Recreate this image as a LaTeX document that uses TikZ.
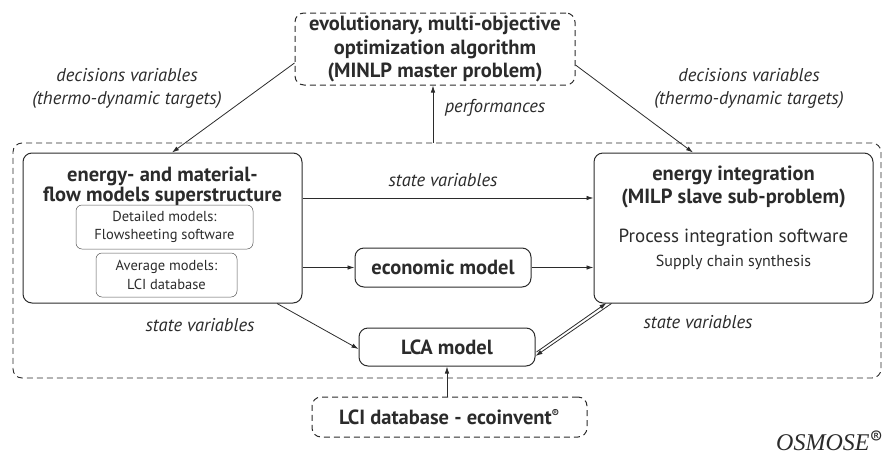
\documentclass[tikz,border=0pt]{standalone}
\usepackage{fontspec}
\setmainfont{PT Sans}
\newfontfamily\osmosefont{Liberation Serif}
\usetikzlibrary{arrows.meta,calc}
\definecolor{ink}{HTML}{2B2B2B}
\begin{document}
\begin{tikzpicture}[x=1pt,y=-1pt,
  box/.style={draw=ink, rounded corners=9pt, line width=1pt, align=center, inner sep=0pt, text=ink},
  dbox/.style={box, dash pattern=on 6pt off 4pt},
  subbox/.style={draw=ink!80, rounded corners=6pt, line width=0.5pt, align=center, inner sep=0pt, text=ink,
    font=\fontsize{14.5}{18.5}\selectfont},
  ttl/.style={text=ink, align=center, font=\fontsize{20.5}{23}\selectfont\bfseries},
  lab/.style={text=ink, align=center, font=\fontsize{18.5}{23}\selectfont\itshape},
  arr/.style={draw=ink, line width=0.8pt, -{Latex[length=7pt,width=4.5pt]}}]
\useasboundingbox (0,0) rectangle (883,461);
% outer dashed frame
\node[dbox, minimum width=868, minimum height=235, line width=0.9pt] (outer) at (447,260.5) {};
% optimizer
\node[dbox, minimum width=280, minimum height=72, font=\fontsize{20.5}{23.5}\selectfont\bfseries] (opt) at (435,49)
  {evolutionary, multi-objective\\optimization algorithm\\(MINLP master problem)};
% left model box
\node[box, minimum width=279, minimum height=150] (mf) at (162.5,228) {};
\node[ttl, font=\fontsize{20.5}{18.5}\selectfont\bfseries] (mft) at (162.5,186) {energy- and material-\\flow models superstructure};
\node[subbox, minimum width=177, minimum height=44] (sub1) at (164.5,227) {Detailed models:\\Flowsheeting software};
\node[subbox, minimum width=141, minimum height=44] (sub2) at (166.5,275) {Average models:\\LCI database};
% right box
\node[box, minimum width=279, minimum height=150] (ei) at (733.5,228) {};
\node[ttl] (eit) at (733.5,186.5) {energy integration\\(MILP slave sub-problem)};
\node[text=ink, font=\fontsize{19}{20}\selectfont] (pis) at (733.5,238) {Process integration software};
\node[text=ink, font=\fontsize{16}{18}\selectfont] (scs) at (733.5,262) {Supply chain synthesis};
% economic, LCA, LCI
\node[box, minimum width=176, minimum height=39, font=\fontsize{20.5}{22}\selectfont\bfseries] (eco) at (443,267.5) {economic model};
\node[box, minimum width=176, minimum height=38, font=\fontsize{20.5}{22}\selectfont\bfseries] (lca) at (447,347) {LCA model};
\node[dbox, minimum width=275, minimum height=40, font=\fontsize{20.5}{22}\selectfont\bfseries] (lci) at (449.5,417)
  {LCI database - ecoinvent\textsuperscript{\fontsize{11}{11}\selectfont ®}};
% labels
\node[lab] (dvl) at (127,88) {decisions variables\\(thermo-dynamic targets)};
\node[lab] (dvr) at (749,88) {decisions variables\\(thermo-dynamic targets)};
\node[lab] (perf) at (495,108) {performances};
\node[lab] (sv1) at (443,180) {state variables};
\node[lab] (sv2) at (200,325) {state variables};
\node[lab] (sv3) at (698,322) {state variables};
\node[text=ink, font=\fontsize{24}{26}\selectfont\osmosefont\itshape, anchor=east, inner sep=0pt] (osm) at (883,441)
  {OSMOSE\raisebox{6pt}{\normalfont\fontsize{19}{19}\selectfont ®}};
% connectors
\draw[arr] ($(opt.west)+(0,14)$) -- (172,0 |- mf.north);
\draw[arr] ($(opt.east)+(0,16)$) -- (693,0 |- ei.north);
\draw[arr] (433,0 |- outer.north) -- (433,0 |- opt.south);
\draw[arr] (mf.east |- 0,198) -- (ei.west |- 0,198);
\draw[arr] (mf.east |- eco.west) -- (eco.west);
\draw[arr] (eco.east) -- (ei.west |- eco.east);
\draw[arr] (277,0 |- mf.south) -- ($(lca.west)+(0,2)$);
\draw[arr] ($(ei.south west)+(18,0)$) -- ($(lca.east)+(0,9)$);
\draw[arr] ($(lca.east)+(1,5)$) -- ($(ei.south west)+(13,-0.5)$);
\draw[arr] (lci.north -| lca.south) -- (lca.south);
\end{tikzpicture}
\end{document}
